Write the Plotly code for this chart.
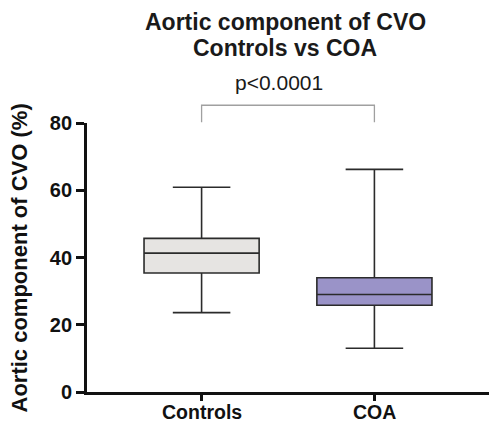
import plotly.graph_objects as go

categories = ["Controls", "COA"]
lower_whisker = [23.6, 13.0]
q1_values = [35.4, 25.8]
medians = [41.3, 29.0]
q3_values = [45.7, 34.0]
upper_whisker = [60.9, 66.2]
fill_colors = ["#e6e4e2", "#9a93c8"]
y_ticks = [0, 20, 40, 60, 80]
p_label = "p<0.0001"
title_lines = ["Aortic component of CVO", "Controls vs COA"]
y_title = "Aortic component of CVO (%)"

FONT = "Arial, Liberation Sans, sans-serif"

fig = go.Figure()
for i, cat in enumerate(categories):
    fig.add_trace(go.Box(
        x=[i],
        q1=[q1_values[i]], median=[medians[i]], q3=[q3_values[i]],
        lowerfence=[lower_whisker[i]], upperfence=[upper_whisker[i]],
        fillcolor=fill_colors[i],
        line=dict(color="#2b2b2b", width=1.6),
        width=0.666,
        whiskerwidth=0.5,
        boxpoints=False,
        showlegend=False,
        hoverinfo="skip",
    ))

# significance bracket
fig.add_shape(type="path", xref="x", yref="paper",
              path="M 0,1.003 L 0,1.066 L 1,1.066 L 1,1.003",
              line=dict(color="#a0a0a0", width=1.3))
fig.add_annotation(x=0.45, xref="x", y=1.152, yref="paper", yanchor="middle",
                   text=p_label, showarrow=False,
                   font=dict(family=FONT, size=21, color="#1a1a1a"))

# two-line title
for yy, line in zip([1.3755, 1.279], title_lines):
    fig.add_annotation(x=0.483, xref="x", y=yy, yref="paper", yanchor="middle",
                       text=f"<b>{line}</b>", showarrow=False,
                       font=dict(family=FONT, size=23, color="#1a1a1a"))

# x category labels
for i, cat in enumerate(categories):
    fig.add_annotation(x=i, xref="x", y=-0.0725, yref="paper", yanchor="middle",
                       text=f"<b>{cat}</b>", showarrow=False, borderpad=0,
                       font=dict(family=FONT, size=19.5, color="#111"))

# y-axis title
fig.add_annotation(x=-0.1667, xref="paper", y=0.5, yref="paper",
                   xanchor="center", yanchor="middle", textangle=-90,
                   text=f"<b>{y_title}</b>", showarrow=False,
                   font=dict(family=FONT, size=22, color="#111"))

fig.update_layout(
    width=489, height=424,
    margin=dict(l=87, r=0, t=123, b=32),
    paper_bgcolor="white", plot_bgcolor="white",
    font=dict(family=FONT, color="#111"),
)
fig.update_xaxes(
    tickmode="array", tickvals=[0, 1], showticklabels=False,
    range=[-0.663, 1.663], showline=True, linecolor="#111", linewidth=2.8,
    ticks="outside", ticklen=6, tickwidth=2.8, tickcolor="#111", automargin=False,
    showgrid=False, zeroline=False,
)
fig.update_yaxes(
    range=[0, 80], tickmode="array", tickvals=y_ticks,
    ticktext=[f"<b>{t}</b>" for t in y_ticks],
    showline=True, linecolor="#111", linewidth=2.8, automargin=False,
    ticks="outside", ticklen=8, tickwidth=2.8, tickcolor="#111",
    showgrid=False, zeroline=False, tickfont=dict(family=FONT, size=20, color="#111"),
)

fig.write_html("out.html")
